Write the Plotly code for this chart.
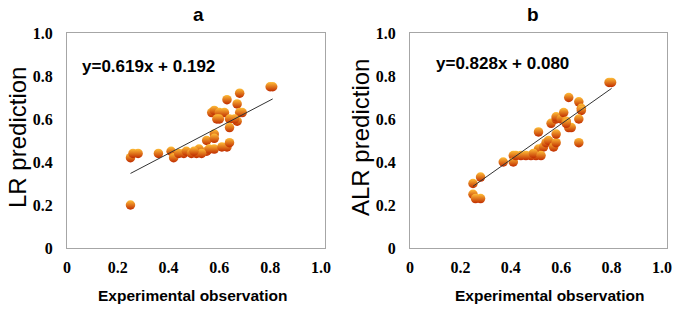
import plotly.graph_objects as go

# ---- data ----
xa = [0.25, 0.25, 0.26, 0.28, 0.36, 0.41, 0.42, 0.44, 0.46, 0.47, 0.49, 0.51, 0.51, 0.55, 0.55,
      0.56, 0.58, 0.58, 0.58, 0.61, 0.63, 0.64, 0.57, 0.58, 0.60, 0.62, 0.59, 0.60, 0.63, 0.64,
      0.64, 0.67, 0.68, 0.68, 0.69, 0.67, 0.66, 0.80, 0.81, 0.52, 0.53, 0.50]
ya = [0.20, 0.42, 0.44, 0.44, 0.44, 0.45, 0.42, 0.44, 0.44, 0.45, 0.44, 0.45, 0.44, 0.45, 0.50,
      0.46, 0.46, 0.53, 0.51, 0.47, 0.47, 0.49, 0.63, 0.64, 0.63, 0.63, 0.60, 0.60, 0.69, 0.60,
      0.56, 0.67, 0.72, 0.63, 0.63, 0.59, 0.60, 0.75, 0.75, 0.46, 0.44, 0.45]

xb = [0.25, 0.25, 0.28, 0.26, 0.28, 0.37, 0.41, 0.41, 0.42, 0.44, 0.46, 0.48, 0.50, 0.51, 0.51,
      0.53, 0.54, 0.55, 0.57, 0.58, 0.58, 0.56, 0.58, 0.58, 0.60, 0.61, 0.62, 0.63, 0.64, 0.62,
      0.63, 0.67, 0.68, 0.68, 0.67, 0.67, 0.79, 0.80, 0.49, 0.52]
yb = [0.30, 0.25, 0.33, 0.23, 0.23, 0.40, 0.43, 0.40, 0.43, 0.43, 0.43, 0.43, 0.43, 0.46, 0.54,
      0.47, 0.49, 0.50, 0.47, 0.49, 0.53, 0.58, 0.60, 0.61, 0.60, 0.63, 0.59, 0.56, 0.56, 0.58,
      0.70, 0.68, 0.65, 0.64, 0.60, 0.49, 0.77, 0.77, 0.44, 0.43]

fit_a = (0.619, 0.192)
fit_b = (0.828, 0.080)

panel_titles = ["a", "b"]
y_titles = ["LR prediction", "ALR prediction"]
x_title = "Experimental observation"
tick_vals = [0, 0.2, 0.4, 0.6, 0.8, 1.0]
tick_text = ["0", "0.2", "0.4", "0.6", "0.8", "1.0"]

# ---- figure ----
W, H = 675, 310


def px(x):
    return x / W


def py(y):
    return 1 - y / H


fig = go.Figure()

marker = dict(size=9.5, color="#ffbe38", line=dict(width=0),
              gradient=dict(type="vertical", color="#c02c00"))

for i, (xs, ys, fit) in enumerate([(xa, ya, fit_a), (xb, yb, fit_b)]):
    xr = "x" if i == 0 else "x2"
    yr = "y" if i == 0 else "y2"
    fig.add_trace(go.Scatter(x=xs, y=ys, mode="markers", marker=marker,
                             xaxis=xr, yaxis=yr, showlegend=False))
    lx = [min(xs), max(xs)]
    ly = [fit[0] * v + fit[1] for v in lx]
    fig.add_trace(go.Scatter(x=lx, y=ly, mode="lines",
                             line=dict(color="#333333", width=1),
                             xaxis=xr, yaxis=yr, showlegend=False))

tickfont = dict(family="Liberation Serif", size=16, color="black", weight="bold")
common = dict(showgrid=False, zeroline=False, showline=True, mirror=True,
              linecolor="#a6a6a6", linewidth=1, ticks="", tickfont=tickfont,
              tickvals=tick_vals, ticktext=tick_text, automargin=False,
              ticklabeloverflow="allow")

ydom = [py(248), py(33)]
fig.update_layout(
    template="none",
    width=W, height=H, margin=dict(l=0, r=0, t=0, b=0),
    paper_bgcolor="white", plot_bgcolor="white",
    xaxis=dict(domain=[px(67), px(325)], range=[0, 1.016], ticklabelstandoff=5,
               anchor="y", **common),
    yaxis=dict(domain=ydom, range=[0, 1], ticklabelstandoff=10, anchor="x", **common),
    xaxis2=dict(domain=[px(410), px(667)], range=[0, 1.02], ticklabelstandoff=5,
                anchor="y2", **common),
    yaxis2=dict(domain=ydom, range=[0, 1], ticklabelstandoff=10, anchor="x2", **common),
)

ann = []
# panel titles
for cx, t in zip([198, 533], panel_titles):
    ann.append(dict(x=px(cx), y=py(15), xref="paper", yref="paper", text=t,
                    showarrow=False, xanchor="center", yanchor="middle",
                    font=dict(family="Liberation Sans", size=19, color="black", weight="bold")))
# y titles
for cx, t in zip([17, 360], y_titles):
    ann.append(dict(x=px(cx), y=py(138), xref="paper", yref="paper", text=t,
                    showarrow=False, xanchor="center", yanchor="middle", textangle=-90,
                    font=dict(family="Liberation Sans", size=24, color="black")))
# x titles
for cx in [193, 550]:
    ann.append(dict(x=px(cx), y=py(295), xref="paper", yref="paper", text=x_title,
                    showarrow=False, xanchor="center", yanchor="middle",
                    font=dict(family="Liberation Sans", size=15.5, color="black", weight="bold")))
# equations
for lx, cy, fit in [(80, 67, fit_a), (434, 63, fit_b)]:
    ann.append(dict(x=px(lx), y=py(cy), xref="paper", yref="paper",
                    text=f"y={fit[0]:.3f}x + {fit[1]:.3f}",
                    showarrow=False, xanchor="left", yanchor="middle",
                    font=dict(family="Liberation Sans", size=17, color="black", weight="bold")))
fig.update_layout(annotations=ann)

fig.write_html("out.html",
               config={"displayModeBar": False},
               post_script="document.body.style.margin='0';"
                           "document.body.style.overflow='hidden';")
